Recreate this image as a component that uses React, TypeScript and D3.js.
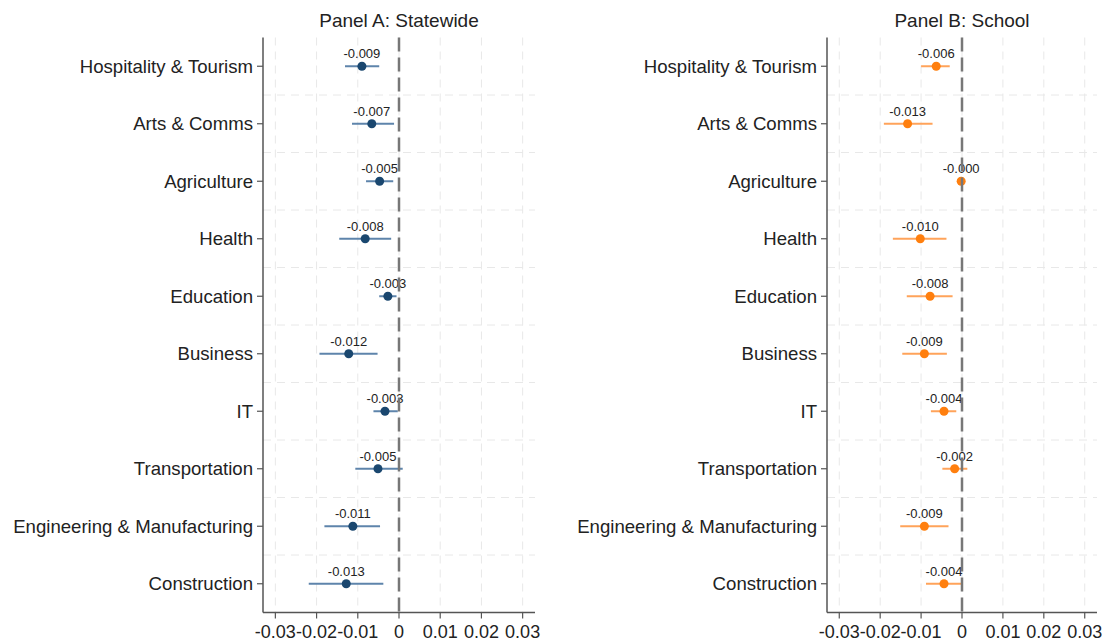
import React from "react";
import * as d3 from "d3";

// Occupational categories, top to bottom
const categories = [
  "Hospitality & Tourism",
  "Arts & Comms",
  "Agriculture",
  "Health",
  "Education",
  "Business",
  "IT",
  "Transportation",
  "Engineering & Manufacturing",
  "Construction",
];

// Panel A: statewide estimates with confidence bounds
const statewideEst = [-0.009, -0.0066, -0.0047, -0.0082, -0.0027, -0.0122, -0.0034, -0.0051, -0.0112, -0.0128];
const statewideLo = [-0.0131, -0.0114, -0.008, -0.0145, -0.0048, -0.0193, -0.0062, -0.0106, -0.0181, -0.0219];
const statewideHi = [-0.0048, -0.0012, -0.0014, -0.0019, -0.0006, -0.0052, -0.0003, 0.0009, -0.0046, -0.0038];

// Panel B: school-level estimates with confidence bounds
const schoolEst = [-0.0063, -0.0133, -0.0002, -0.0102, -0.0078, -0.0092, -0.0044, -0.0018, -0.0092, -0.0044];
const schoolLo = [-0.01, -0.0191, -0.0004, -0.0169, -0.0135, -0.0146, -0.0076, -0.0048, -0.0151, -0.0088];
const schoolHi = [-0.003, -0.0072, 0.0, -0.0038, -0.0023, -0.0037, -0.0014, 0.0013, -0.0033, -0.0001];

const xTicks = [-0.03, -0.02, -0.01, 0, 0.01, 0.02, 0.03];
const xDomain = [-0.033, 0.033];

const W = 1107;
const H = 643;
const TOP = 37.5;
const BOTTOM = 612.5;
const FONT = "'Liberation Sans', Arial, Helvetica, sans-serif";

type PanelProps = {
  title: string;
  x0: number;
  x1: number;
  est: number[];
  lo: number[];
  hi: number[];
  dot: string;
  bar: string;
};

function Panel({ title, x0, x1, est, lo, hi, dot, bar }: PanelProps) {
  const x = d3.scaleLinear().domain(xDomain).range([x0, x1]);
  const y = d3.scalePoint<string>().domain(categories).range([TOP, BOTTOM]).padding(0.5);
  const step = y.step();
  const boundaries = categories.slice(1).map((c) => (y(c) as number) - step / 2);

  return (
    <g>
      <text x={(x0 + x1) / 2} y={27} textAnchor="middle" fontSize={19} fill="#222" fontFamily={FONT}>
        {title}
      </text>

      {/* grid */}
      {xTicks.map((t) => (
        <line key={"vg" + t} x1={x(t)} x2={x(t)} y1={TOP} y2={BOTTOM} stroke="#e8e8e8" strokeWidth={1} strokeDasharray="8,6" />
      ))}
      {boundaries.map((b, i) => (
        <line key={"hg" + i} x1={x0} x2={x1} y1={b} y2={b} stroke="#e8e8e8" strokeWidth={1} strokeDasharray="8,6" />
      ))}

      {/* confidence intervals, estimates and value labels */}
      {categories.map((c, i) => {
        const cy = y(c) as number;
        return (
          <g key={c}>
            <line x1={x(lo[i])} x2={x(hi[i])} y1={cy} y2={cy} stroke={bar} strokeWidth={2} />
            <circle cx={x(est[i])} cy={cy} r={4.5} fill={dot} />
            <text x={x(est[i])} y={cy - 8} textAnchor="middle" fontSize={13} fill="#222" fontFamily={FONT}>
              {est[i].toFixed(3)}
            </text>
          </g>
        );
      })}

      {/* zero reference line */}
      <line x1={x(0)} x2={x(0)} y1={TOP} y2={BOTTOM} stroke="#777" strokeWidth={2.5} strokeDasharray="14,6" />

      {/* y axis */}
      <line x1={x0} x2={x0} y1={TOP} y2={BOTTOM} stroke="#555" strokeWidth={1.5} />
      {categories.map((c) => {
        const cy = y(c) as number;
        return (
          <g key={"yl" + c}>
            <line x1={x0 - 6} x2={x0} y1={cy} y2={cy} stroke="#555" strokeWidth={1.2} />
            <text x={x0 - 10} y={cy} dy="0.36em" textAnchor="end" fontSize={18.6} fill="#222" fontFamily={FONT}>
              {c}
            </text>
          </g>
        );
      })}

      {/* x axis */}
      <line x1={x0} x2={x1} y1={BOTTOM} y2={BOTTOM} stroke="#555" strokeWidth={1.5} />
      {xTicks.map((t) => (
        <g key={"xt" + t}>
          <line x1={x(t)} x2={x(t)} y1={BOTTOM} y2={BOTTOM + 6} stroke="#555" strokeWidth={1.2} />
          <text x={x(t)} y={638} textAnchor="middle" fontSize={18} fill="#222" fontFamily={FONT}>
            {String(t)}
          </text>
        </g>
      ))}
    </g>
  );
}

export default function App() {
  return (
    <svg width={W} height={H} style={{ position: "absolute", left: 0, top: 0, background: "#fff" }}>
      <rect width={W} height={H} fill="#fff" />
      <Panel
        title="Panel A: Statewide"
        x0={263}
        x1={535}
        est={statewideEst}
        lo={statewideLo}
        hi={statewideHi}
        dot="#1a476f"
        bar="#5e84ab"
      />
      <Panel
        title="Panel B: School"
        x0={827}
        x1={1097}
        est={schoolEst}
        lo={schoolLo}
        hi={schoolHi}
        dot="#ff7f0e"
        bar="#ffa35a"
      />
    </svg>
  );
}
